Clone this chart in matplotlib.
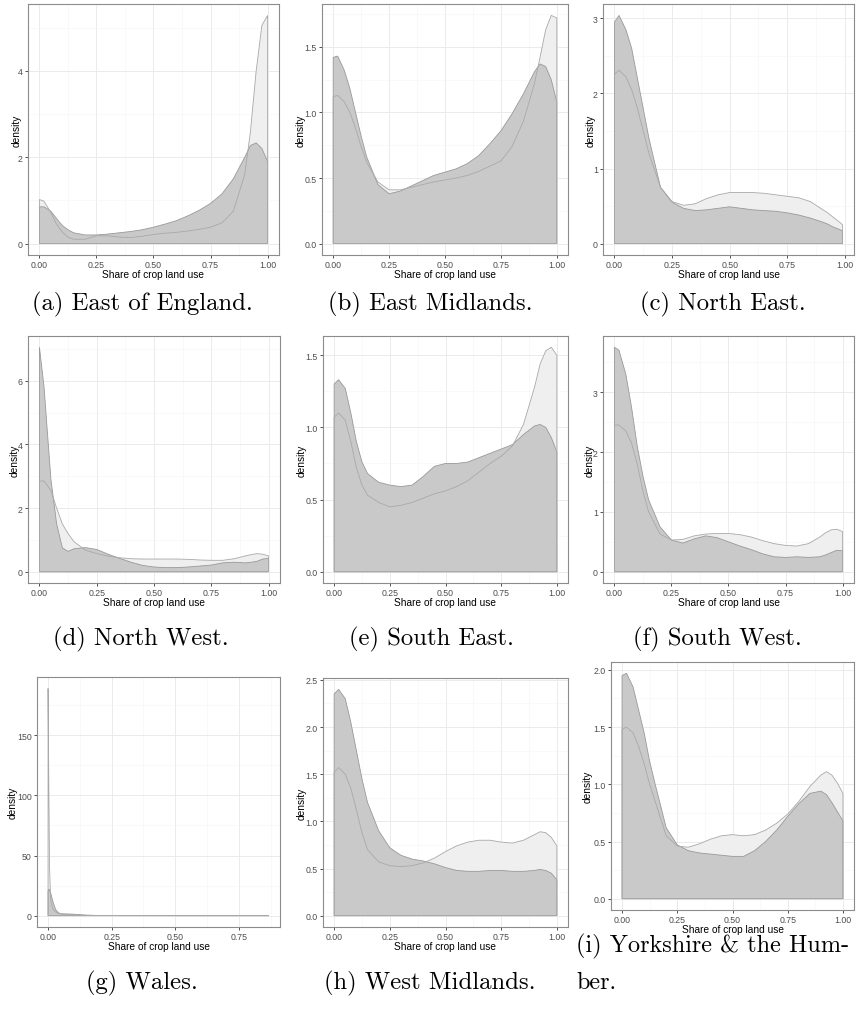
import matplotlib
matplotlib.use("Agg")
import matplotlib.pyplot as plt
import numpy as np
from matplotlib.ticker import AutoMinorLocator, FormatStrFormatter, MultipleLocator


plt.rcParams.update(
    {
        "font.family": "sans-serif",
        "font.sans-serif": ["Liberation Sans", "DejaVu Sans"],
        "figure.facecolor": "white",
        "savefig.facecolor": "white",
    }
)

# share of crop land use at which each density is sampled
SHARE = [0, 0.02, 0.05, 0.075, 0.1, 0.125, 0.15, 0.2, 0.25, 0.3, 0.35, 0.4, 0.45,
         0.5, 0.55, 0.6, 0.65, 0.7, 0.75, 0.8, 0.85, 0.9, 0.925, 0.95, 0.975, 1.0]
SHARE_NORTH_EAST = SHARE[:-1] + [0.99]
SHARE_WALES = [0, 0.003, 0.006, 0.01, 0.015, 0.02, 0.03, 0.04, 0.05, 0.075, 0.1,
               0.125, 0.15, 0.2, 0.25, 0.3, 0.5, 0.868]

# light series / dark series per region
EAST_ENGLAND_LIGHT = [1.02, 0.98, 0.72, 0.45, 0.27, 0.15, 0.1, 0.1, 0.18, 0.18, 0.15, 0.14, 0.17,
                      0.21, 0.24, 0.26, 0.29, 0.33, 0.38, 0.48, 0.75, 1.6, 2.6, 4.0, 5.05, 5.28]
EAST_ENGLAND_DARK = [0.85, 0.85, 0.75, 0.58, 0.42, 0.32, 0.25, 0.2, 0.2, 0.22, 0.25, 0.28, 0.32,
                     0.38, 0.45, 0.53, 0.64, 0.77, 0.93, 1.15, 1.5, 2.0, 2.27, 2.33, 2.2, 1.9]

EAST_MIDLANDS_LIGHT = [1.12, 1.13, 1.08, 1.0, 0.88, 0.74, 0.62, 0.47, 0.41, 0.41, 0.43, 0.45, 0.47,
                       0.485, 0.5, 0.52, 0.55, 0.59, 0.63, 0.74, 0.93, 1.22, 1.42, 1.63, 1.74, 1.72]
EAST_MIDLANDS_DARK = [1.42, 1.43, 1.32, 1.18, 1.0, 0.82, 0.66, 0.45, 0.38, 0.4, 0.44, 0.48, 0.52,
                      0.545, 0.57, 0.61, 0.67, 0.76, 0.86, 0.99, 1.14, 1.31, 1.37, 1.35, 1.25, 1.08]

NORTH_EAST_LIGHT = [2.25, 2.31, 2.22, 2.05, 1.8, 1.5, 1.2, 0.75, 0.56, 0.51, 0.53, 0.6, 0.65,
                    0.68, 0.68, 0.68, 0.67, 0.65, 0.63, 0.61, 0.56, 0.46, 0.41, 0.35, 0.29, 0.25]
NORTH_EAST_DARK = [2.95, 3.04, 2.85, 2.6, 2.2, 1.8, 1.4, 0.75, 0.55, 0.47, 0.44, 0.45, 0.47,
                   0.49, 0.47, 0.45, 0.44, 0.43, 0.41, 0.38, 0.34, 0.29, 0.26, 0.22, 0.19, 0.17]

NORTH_WEST_LIGHT = [2.85, 2.85, 2.55, 2.0, 1.5, 1.2, 0.95, 0.68, 0.57, 0.49, 0.44, 0.41, 0.4,
                    0.4, 0.4, 0.4, 0.39, 0.37, 0.36, 0.36, 0.41, 0.5, 0.54, 0.57, 0.55, 0.5]
NORTH_WEST_DARK = [7.05, 5.8, 2.9, 1.5, 0.75, 0.64, 0.72, 0.76, 0.7, 0.55, 0.42, 0.3, 0.2,
                   0.15, 0.13, 0.13, 0.15, 0.18, 0.21, 0.28, 0.3, 0.28, 0.3, 0.33, 0.4, 0.42]

SOUTH_EAST_LIGHT = [1.07, 1.1, 1.05, 0.9, 0.72, 0.6, 0.53, 0.48, 0.45, 0.46, 0.48, 0.51, 0.54,
                    0.56, 0.59, 0.63, 0.69, 0.75, 0.8, 0.87, 1.02, 1.28, 1.44, 1.53, 1.555, 1.5]
SOUTH_EAST_DARK = [1.3, 1.33, 1.27, 1.1, 0.9, 0.76, 0.68, 0.62, 0.6, 0.59, 0.6, 0.66, 0.73,
                   0.75, 0.75, 0.76, 0.79, 0.82, 0.85, 0.88, 0.95, 1.01, 1.02, 1.0, 0.93, 0.83]

SOUTH_WEST_LIGHT = [2.45, 2.45, 2.35, 2.15, 1.8, 1.35, 1.0, 0.63, 0.53, 0.54, 0.6, 0.63, 0.64,
                    0.64, 0.62, 0.58, 0.52, 0.47, 0.44, 0.43, 0.47, 0.58, 0.65, 0.7, 0.71, 0.67]
SOUTH_WEST_DARK = [3.75, 3.7, 3.3, 2.75, 2.1, 1.6, 1.2, 0.75, 0.53, 0.48, 0.55, 0.6, 0.57,
                   0.5, 0.43, 0.37, 0.3, 0.25, 0.24, 0.25, 0.24, 0.25, 0.28, 0.32, 0.36, 0.35]

WALES_LIGHT = [189, 110, 40, 14, 8, 5, 3, 2, 1.5, 1.2, 1.0, 0.6, 0.3, 0.1, 0.05, 0.02, 0, 0]
WALES_DARK = [20, 22, 21.5, 19, 15, 11, 5, 2.5, 1.5, 1.3, 1.2, 0.8, 0.4, 0.1, 0.05, 0.02, 0, 0]

WEST_MIDLANDS_LIGHT = [1.52, 1.57, 1.5, 1.35, 1.12, 0.88, 0.7, 0.57, 0.53, 0.52, 0.53, 0.56, 0.61,
                       0.68, 0.74, 0.78, 0.8, 0.8, 0.78, 0.77, 0.8, 0.86, 0.89, 0.88, 0.83, 0.74]
WEST_MIDLANDS_DARK = [2.35, 2.4, 2.3, 2.05, 1.75, 1.45, 1.2, 0.9, 0.72, 0.64, 0.6, 0.58, 0.55,
                      0.51, 0.48, 0.47, 0.47, 0.48, 0.48, 0.47, 0.47, 0.48, 0.49, 0.48, 0.45, 0.38]

YORKSHIRE_LIGHT = [1.48, 1.5, 1.45, 1.33, 1.18, 1.0, 0.85, 0.55, 0.46, 0.45, 0.48, 0.52, 0.55,
                   0.56, 0.55, 0.56, 0.6, 0.66, 0.74, 0.85, 0.98, 1.08, 1.11, 1.08, 1.01, 0.92]
YORKSHIRE_DARK = [1.95, 1.97, 1.85, 1.65, 1.45, 1.2, 1.0, 0.62, 0.47, 0.42, 0.4, 0.39, 0.38,
                  0.37, 0.37, 0.42, 0.5, 0.6, 0.72, 0.83, 0.92, 0.94, 0.91, 0.84, 0.76, 0.68]

CAPTIONS = ["(a) East of England.", "(b) East Midlands.", "(c) North East.",
            "(d) North West.", "(e) South East.", "(f) South West.",
            "(g) Wales.", "(h) West Midlands."]
CAPTION_LAST = ["(i) Yorkshire & the Hum-", "ber."]

LIGHT_FILL = "#efefef"
DARK_FILL = "#c9c9c9"
LIGHT_EDGE = "#a9a9a9"
DARK_EDGE = "#999999"

FIG_W, FIG_H = 864, 1012


def px_axes(fig, left, top, right, bottom):
    """Add axes from a pixel box measured from the top-left corner."""
    return fig.add_axes([left / FIG_W, 1 - bottom / FIG_H, (right - left) / FIG_W, (bottom - top) / FIG_H])


def density_panel(ax, x, light, dark, ystep, yfmt, label_dx):
    x = np.asarray(x, float)
    light = np.asarray(light, float)
    dark = np.asarray(dark, float)
    xs = np.r_[x[0], x, x[-1]]
    ax.fill(xs, np.r_[0, light, 0], facecolor=LIGHT_FILL, edgecolor="none", zorder=2)
    ax.fill(xs, np.r_[0, dark, 0], facecolor=DARK_FILL, edgecolor=DARK_EDGE, lw=0.6, zorder=3)
    ax.fill(xs, np.r_[0, light, 0], facecolor="none", edgecolor=LIGHT_EDGE, lw=0.6, zorder=4)

    # ggplot-style 5% expansion around the data range
    x0, x1 = x.min(), x.max()
    ymax = max(light.max(), dark.max())
    ax.set_xlim(x0 - 0.05 * (x1 - x0), x1 + 0.05 * (x1 - x0))
    ax.set_ylim(-0.05 * ymax, 1.05 * ymax)

    ax.xaxis.set_major_locator(MultipleLocator(0.25))
    ax.xaxis.set_major_formatter(FormatStrFormatter("%.2f"))
    ax.yaxis.set_major_locator(MultipleLocator(ystep))
    ax.yaxis.set_major_formatter(FormatStrFormatter(yfmt))
    ax.xaxis.set_minor_locator(AutoMinorLocator(2))
    ax.yaxis.set_minor_locator(AutoMinorLocator(2))
    ax.grid(which="major", color="#ebebeb", lw=0.7, zorder=0)
    ax.grid(which="minor", color="#f5f5f5", lw=0.4, zorder=0)
    ax.set_axisbelow(True)
    ax.tick_params(which="major", direction="out", length=2.5, width=0.6, color="#333333",
                   labelsize=6.3, labelcolor="#4d4d4d", pad=1.2)
    ax.tick_params(which="minor", length=0)
    for spine in ax.spines.values():
        spine.set_color("#8c8c8c")
        spine.set_linewidth(0.8)
    ax.set_xlabel("Share of crop land use", fontsize=7.3, labelpad=0)
    ax.set_ylabel("density", fontsize=7.3)
    # y title sits at a fixed pixel offset left of the panel
    width_px = ax.get_position().width * FIG_W
    ax.yaxis.set_label_coords(label_dx / width_px, 0.5)


fig = plt.figure(figsize=(FIG_W / 100, FIG_H / 100), dpi=100)

panels = [
    ((28, 5, 279, 256), SHARE, EAST_ENGLAND_LIGHT, EAST_ENGLAND_DARK, 2, "%d", -6.5),
    ((322, 5, 568, 256), SHARE, EAST_MIDLANDS_LIGHT, EAST_MIDLANDS_DARK, 0.5, "%.1f", -16),
    ((603, 5, 854, 256), SHARE_NORTH_EAST, NORTH_EAST_LIGHT, NORTH_EAST_DARK, 1, "%d", -7.5),
    ((28, 337, 280, 584), SHARE, NORTH_WEST_LIGHT, NORTH_WEST_DARK, 2, "%d", -8),
    ((323, 337, 568, 584), SHARE, SOUTH_EAST_LIGHT, SOUTH_EAST_DARK, 0.5, "%.1f", -16),
    ((603, 337, 854, 584), SHARE, SOUTH_WEST_LIGHT, SOUTH_WEST_DARK, 1, "%d", -8.5),
    ((37, 678, 280, 928), SHARE_WALES, WALES_LIGHT, WALES_DARK, 50, "%d", -19.5),
    ((323, 679, 568, 928), SHARE, WEST_MIDLANDS_LIGHT, WEST_MIDLANDS_DARK, 0.5, "%.1f", -16),
    ((611, 663, 854, 911), SHARE, YORKSHIRE_LIGHT, YORKSHIRE_DARK, 0.5, "%.1f", -18),
]
for box, x, light, dark, ystep, yfmt, label_dx in panels:
    ax = px_axes(fig, *box)
    density_panel(ax, x, light, dark, ystep, yfmt, label_dx)

# sub-figure captions
caption_pos = [(142, 304), (430, 304), (723, 304), (141, 639), (431, 639), (717, 639),
               (142, 983), (430, 983)]
for text, (cx, cy) in zip(CAPTIONS, caption_pos):
    fig.text(cx / FIG_W, 1 - cy / FIG_H, text, family="cmr10", fontsize=17.8,
             ha="center", va="center")
fig.text(576 / FIG_W, 1 - 946 / FIG_H, CAPTION_LAST[0], family="cmr10", fontsize=17.5,
         ha="left", va="center")
fig.text(576 / FIG_W, 1 - 983 / FIG_H, CAPTION_LAST[1], family="cmr10", fontsize=17.5,
         ha="left", va="center")

fig.savefig("out.png", dpi=100)
